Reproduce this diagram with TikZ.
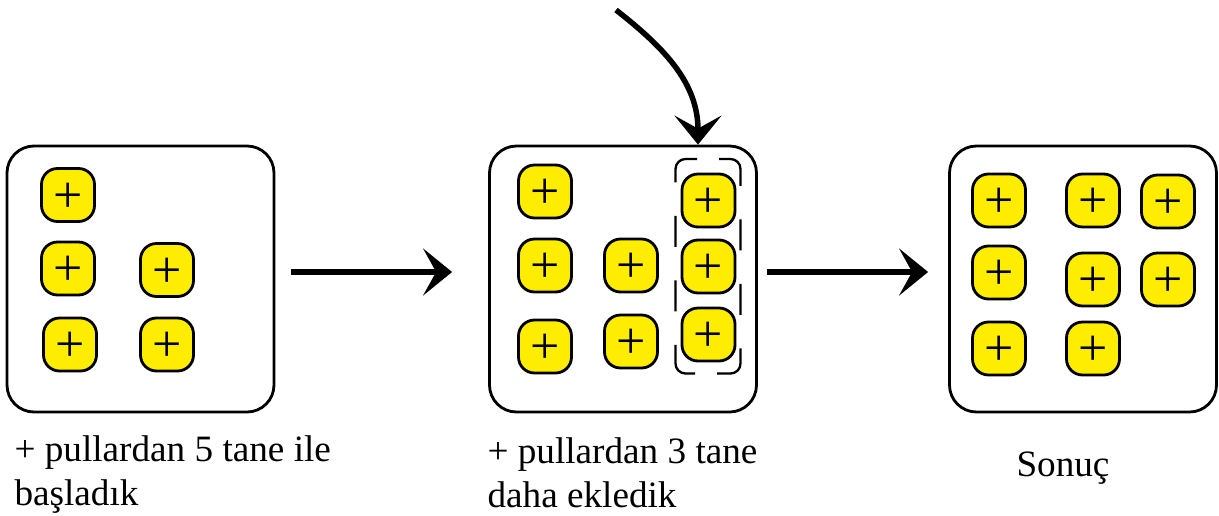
\documentclass[tikz,border=0pt]{standalone}
\usepackage{fontspec}
\setmainfont{Liberation Serif}
\usetikzlibrary{arrows.meta, positioning}
\definecolor{pulyellow}{RGB}{255, 237, 0}

\begin{document}
\begin{tikzpicture}[x=1pt, y=1pt,
    panel/.style={rectangle, rounded corners=27pt, draw, line width=2.8pt, fill=white,
                  minimum width=267pt, minimum height=266pt, inner sep=0pt},
    pul/.style={rectangle, rounded corners=16pt, draw, line width=2.8pt, fill=pulyellow,
                minimum width=53pt, minimum height=53pt, inner sep=0pt,
                text height=34pt, text depth=0pt, font=\fontsize{52pt}{52pt}\selectfont},
    frame/.style={rounded corners=10pt, line width=2.3pt,
                  dash pattern=on 44pt off 33.5pt on 31pt off 33.5pt on 31pt off 33.5pt on 44pt off 22pt},
    caption/.style={align=left, anchor=base west, font=\fontsize{37.2pt}{44pt}\selectfont},
    flow/.style={-{Stealth[length=29pt, width=47pt, inset=13pt]}, line width=5.5pt}]
    \useasboundingbox (0,0) rectangle (1219,-515);

    % Panels
    \node[panel] (box1) at (140.5,-279) {};
    \node[panel] (box2) at (623,-279) {};
    \node[panel] (box3) at (1083,-279) {};

    % First panel
    \node[pul] (a1) at (68,-195) {+};
    \node[pul] (a2) at (68,-268.5) {+};
    \node[pul] (a3) at (167,-270) {+};
    \node[pul] (a4) at (70,-344.5) {+};
    \node[pul] (a5) at (167,-344.5) {+};

    % Second panel
    \draw[frame] (719,-159) -- (740.5,-159) -- (740.5,-373.5) -- (675.5,-373.5) -- (675.5,-159) -- (697,-159);
    \node[pul] (b1) at (545,-191.5) {+};
    \node[pul] (b2) at (545,-265.5) {+};
    \node[pul] (b3) at (631,-265.5) {+};
    \node[pul] (b4) at (545,-346.5) {+};
    \node[pul] (b5) at (631,-341.5) {+};
    \node[pul] (b6) at (708.5,-200.5) {+};
    \node[pul] (b7) at (708.5,-266.5) {+};
    \node[pul] (b8) at (708.5,-334.5) {+};

    % Third panel
    \node[pul] (c1) at (999,-200.5) {+};
    \node[pul] (c2) at (1093,-200.5) {+};
    \node[pul] (c3) at (1168,-201.5) {+};
    \node[pul] (c4) at (999,-272.5) {+};
    \node[pul] (c5) at (1093,-279.5) {+};
    \node[pul] (c6) at (1168,-279.5) {+};
    \node[pul] (c7) at (999,-348.5) {+};
    \node[pul] (c8) at (1093,-348.5) {+};

    % Captions
    \node[caption] (cap1) at (11,-505) {+ pullardan 5 tane ile\\başladık};
    \node[caption] (cap2) at (484,-507) {+ pullardan 3 tane\\daha ekledik};
    \node[caption, anchor=base] (cap3) at (1063,-476) {Sonuç};

    % Arrows
    \coordinate (drop) at (616,-10);
    \draw[flow, shorten <=16pt, shorten >=36pt] ([yshift=7pt]box1.east) -- ([yshift=7pt]box2.west);
    \draw[flow, shorten <=9pt, shorten >=20pt] ([yshift=7pt]box2.east) -- ([yshift=7pt]box3.west);
    \draw[flow] (drop) to[out=-38, in=90] ([xshift=75pt]box2.north);
\end{tikzpicture}
\end{document}
